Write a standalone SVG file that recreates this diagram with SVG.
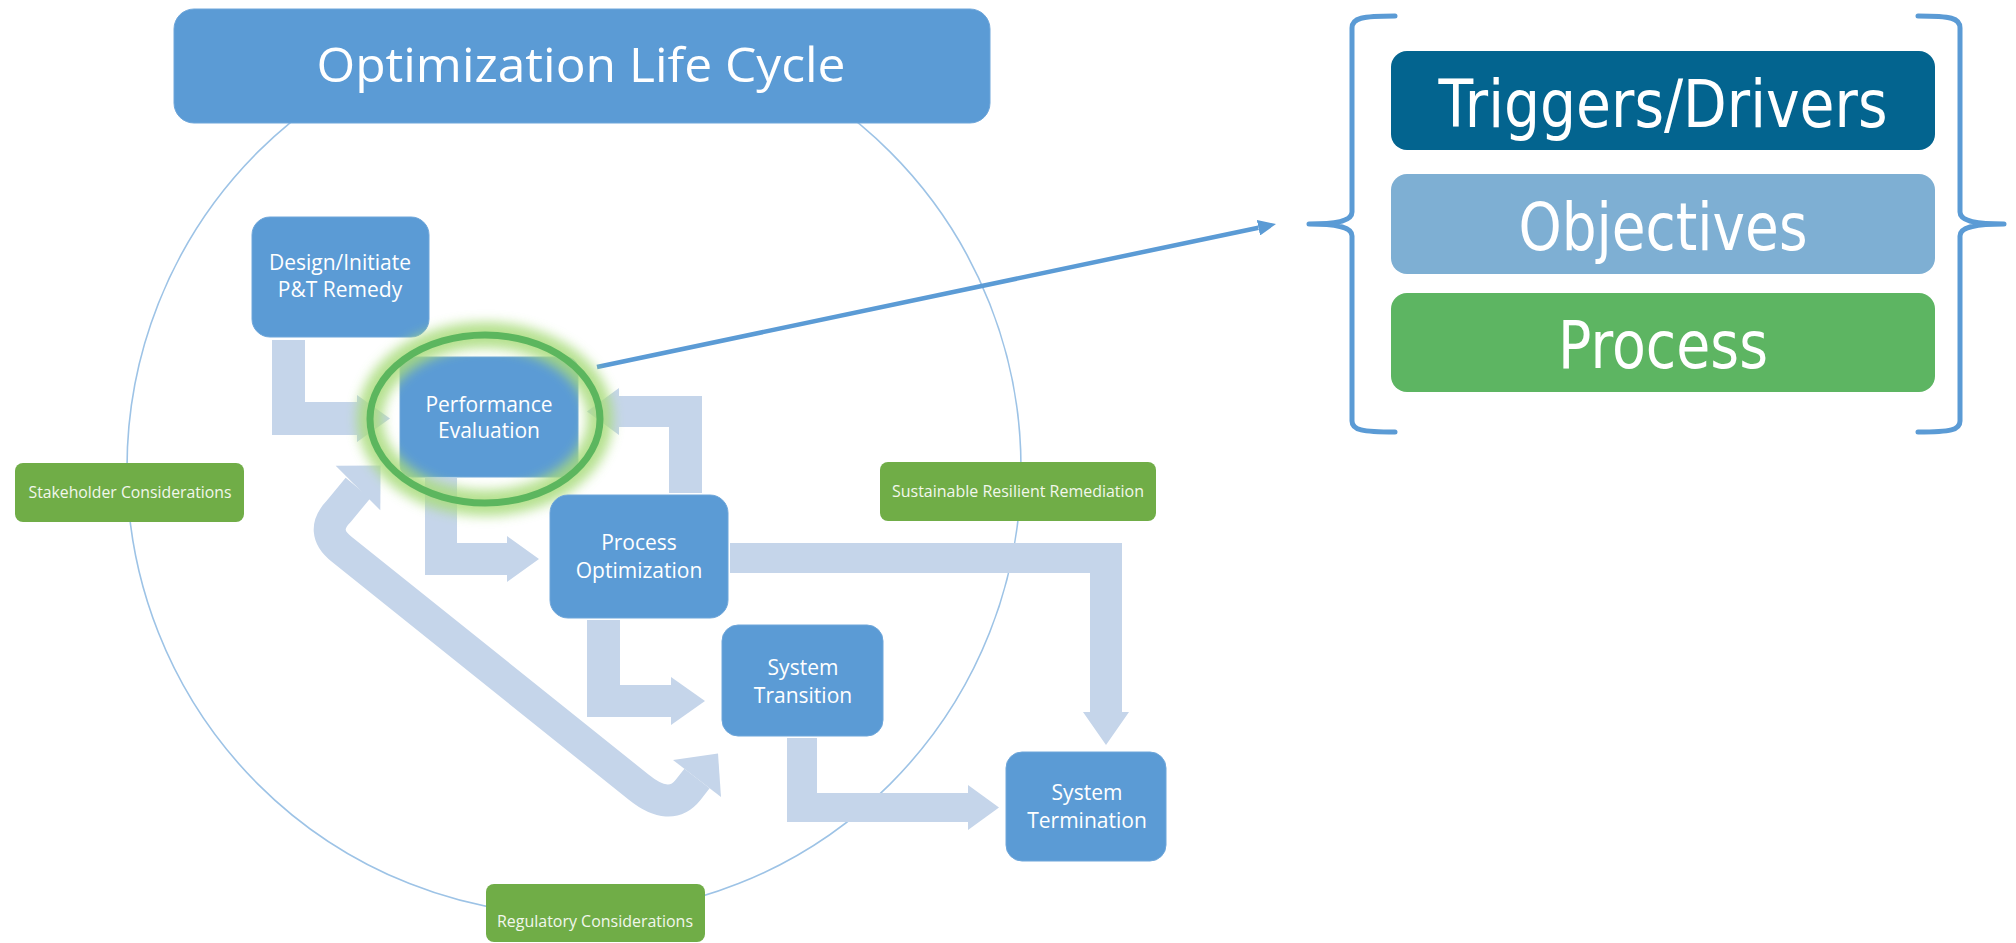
<svg xmlns="http://www.w3.org/2000/svg" width="2016" height="943" viewBox="0 0 2016 943">
<defs>
<style>
.node rect{fill:#5B9BD5;stroke:#6EA6DA;stroke-width:1}
.node text{font-family:"Open Sans","Noto Sans",sans-serif;font-size:21px;fill:#FFFFFF;text-anchor:middle}
.green rect{fill:#70AD47}
.green text{font-family:"Open Sans","Noto Sans",sans-serif;font-size:17px;fill:#F2F7EC;text-anchor:middle}
.flow{fill:#C5D5EA}
.flowline{fill:none;stroke:#C5D5EA;stroke-width:32;stroke-linejoin:round}
.big text{font-family:"DejaVu Sans","Open Sans",sans-serif;font-size:65px;fill:#FFFFFF;text-anchor:middle}
.brace{fill:none;stroke:#5B9BD5;stroke-width:5;stroke-linecap:round;stroke-linejoin:round}
</style>
<filter id="glow" x="-30%" y="-30%" width="160%" height="160%"><feGaussianBlur stdDeviation="6"/></filter>
<marker id="arr" markerUnits="userSpaceOnUse" markerWidth="18" markerHeight="16" refX="0" refY="8" orient="auto" viewBox="0 0 18 16"><path d="M0,0 L18,8 L0,16 Z" fill="#5B9BD5"/></marker>
</defs>

<rect width="2016" height="943" fill="#FFFFFF"/>

<circle id="cycle" cx="574" cy="468" r="447" fill="none" stroke="#9DC3E6" stroke-width="1.6"/>

<g id="connectors">
<path class="flow" d="M272 340 L305 340 L305 402 L357 402 L357 395 L390 418.5 L357 442 L357 435 L272 435 Z"/>
<path class="flow" d="M669 493 L702 493 L702 396 L619 396 L619 388 L587 411.5 L619 435 L619 427 L669 427 Z"/>
<path class="flow" d="M425 478 L457 478 L457 543 L507 543 L507 536 L539 559 L507 582 L507 575 L425 575 Z"/>
<path class="flow" d="M587 620 L620 620 L620 685 L671 685 L671 677 L705 701 L671 725 L671 717 L587 717 Z"/>
<path class="flow" d="M730 543 L1122 543 L1122 712 L1129 712 L1106 745 L1083 712 L1090 712 L1090 573 L730 573 Z"/>
<path class="flow" d="M787 738 L817 738 L817 793 L968 793 L968 785 L999 807.5 L968 830 L968 822 L787 822 Z"/>
<path class="flowline" d="M358 488 L339 511 Q319 531.5 342 549.5 L638.5 787 Q670 812.5 688 790 L697 778.5"/>
<path class="flow" d="M335.7 465.7 L380.6 465.4 L380.3 510.3 Z"/>
<path class="flow" d="M673 760 L718 753.5 L721 797 Z"/>
<line x1="597" y1="367" x2="1258.4" y2="227.7" stroke="#5B9BD5" stroke-width="4.5" marker-end="url(#arr)"/>
</g>

<g id="title" class="node">
<rect x="174" y="9" width="816" height="114" rx="20"/>
<text x="581" y="82" style="font-size:48px" textLength="529" lengthAdjust="spacingAndGlyphs">Optimization Life Cycle</text>
</g>

<g id="design" class="node">
<rect x="252" y="217" width="177" height="120" rx="18"/>
<text x="340" y="270">Design/Initiate</text>
<text x="340" y="297">P&amp;T Remedy</text>
</g>

<g id="performance" class="node">
<rect x="400" y="357" width="178" height="120" rx="12"/>
<text x="489" y="412">Performance</text>
<text x="489" y="438">Evaluation</text>
</g>

<g id="highlight">
<ellipse cx="485" cy="419" rx="115" ry="84" fill="none" stroke="#A9DC7C" stroke-width="26" opacity="0.85" filter="url(#glow)"/>
<ellipse cx="485" cy="419" rx="115" ry="84" fill="none" stroke="#5CB65E" stroke-width="7"/>
</g>

<g id="process-opt" class="node">
<rect x="550" y="495" width="178" height="123" rx="18"/>
<text x="639" y="550">Process</text>
<text x="639" y="578">Optimization</text>
</g>

<g id="transition" class="node">
<rect x="722" y="625" width="161" height="111" rx="16"/>
<text x="803" y="675">System</text>
<text x="803" y="703">Transition</text>
</g>

<g id="termination" class="node">
<rect x="1006" y="752" width="160" height="109" rx="16"/>
<text x="1087" y="800">System</text>
<text x="1087" y="828">Termination</text>
</g>

<g id="stakeholder" class="green">
<rect x="15" y="463" width="229" height="59" rx="8"/>
<text x="130" y="498" textLength="203" lengthAdjust="spacingAndGlyphs">Stakeholder Considerations</text>
</g>

<g id="sustainable" class="green">
<rect x="880" y="462" width="276" height="59" rx="8"/>
<text x="1018" y="497" textLength="252" lengthAdjust="spacingAndGlyphs">Sustainable Resilient Remediation</text>
</g>

<g id="regulatory" class="green">
<rect x="486" y="884" width="219" height="58" rx="8"/>
<text x="595" y="927" textLength="196" lengthAdjust="spacingAndGlyphs">Regulatory Considerations</text>
</g>

<g id="brace-left">
<path class="brace" d="M1395 16 C1362 16 1352 18 1352 28 L1352 212 C1352 220 1340 224 1309 224 C1340 224 1352 228 1352 236 L1352 421 C1352 430 1362 432 1395 432"/>
</g>
<g id="brace-right">
<path class="brace" d="M1918 16 C1951 16 1960 18 1960 28 L1960 212 C1960 220 1972 224 2004 224 C1972 224 1960 228 1960 236 L1960 421 C1960 430 1951 432 1918 432"/>
</g>

<g id="triggers" class="big">
<rect x="1391" y="51" width="544" height="99" rx="16" fill="#03648F"/>
<text x="1663" y="127" textLength="449" lengthAdjust="spacingAndGlyphs">Triggers/Drivers</text>
</g>
<g id="objectives" class="big">
<rect x="1391" y="174" width="544" height="100" rx="16" fill="#7EAFD3"/>
<text x="1663" y="250" textLength="289" lengthAdjust="spacingAndGlyphs">Objectives</text>
</g>
<g id="process" class="big">
<rect x="1391" y="293" width="544" height="99" rx="16" fill="#5DB562"/>
<text x="1663" y="368" textLength="210" lengthAdjust="spacingAndGlyphs">Process</text>
</g>
</svg>
